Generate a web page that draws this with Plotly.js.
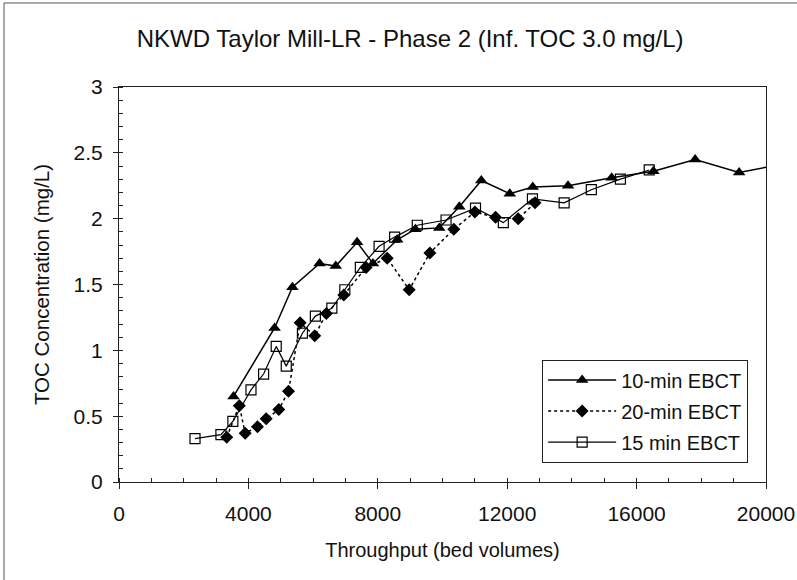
<!DOCTYPE html>
<html>
<head>
<meta charset="utf-8">
<script src="https://cdn.plot.ly/plotly-3.0.1.min.js"></script>
<style>html,body{margin:0;padding:0;background:#fff;}#chart{width:797px;height:580px;}</style>
</head>
<body>
<div id="chart"></div>
<script>
// Throughput (bed volumes) and TOC concentration (mg/L)
const ebct10_x = [3540, 4810, 5360, 6200, 6700, 7360, 7850, 8600, 9160, 9900, 10520, 11200, 12080, 12790, 13880, 15230, 16520, 17810, 19170, 20200];
const ebct10_y = [0.65, 1.17, 1.48, 1.66, 1.64, 1.82, 1.66, 1.84, 1.92, 1.93, 2.09, 2.29, 2.19, 2.24, 2.25, 2.31, 2.36, 2.45, 2.35, 2.40];

const ebct20_x = [3330, 3720, 3900, 4280, 4550, 4940, 5240, 5600, 6050, 6410, 6950, 7640, 8290, 8970, 9610, 10350, 11000, 11640, 12340, 12860];
const ebct20_y = [0.34, 0.58, 0.37, 0.42, 0.48, 0.55, 0.69, 1.21, 1.11, 1.28, 1.42, 1.63, 1.70, 1.46, 1.74, 1.92, 2.05, 2.01, 2.00, 2.12];

const ebct15_x = [2350, 3150, 3520, 4080, 4470, 4860, 5170, 5670, 6070, 6580, 6980, 7460, 8040, 8520, 9220, 10110, 11020, 11880, 12780, 13760, 14600, 15500, 16390];
const ebct15_y = [0.33, 0.36, 0.46, 0.70, 0.82, 1.03, 0.88, 1.13, 1.26, 1.32, 1.46, 1.63, 1.79, 1.86, 1.95, 1.99, 2.08, 1.97, 2.15, 2.12, 2.22, 2.30, 2.37];

const seriesNames = ['10-min EBCT', '20-min EBCT', '15 min EBCT'];
const xTickVals = [0, 4000, 8000, 12000, 16000, 20000];
const yTickVals = [0, 0.5, 1, 1.5, 2, 2.5, 3];

const FONT = 'Arial, "Liberation Sans", Helvetica, sans-serif';

const traces = [
  {
    x: ebct10_x, y: ebct10_y, name: seriesNames[0], type: 'scatter', mode: 'lines+markers',
    line: {color: '#000', width: 1.5},
    marker: {symbol: 'triangle-up', size: 11, color: '#000'},
    legendgroup: 'a'
  },
  {
    x: ebct20_x, y: ebct20_y, name: seriesNames[1], type: 'scatter', mode: 'lines+markers',
    line: {color: '#000', width: 1.5, dash: 'dot'},
    marker: {symbol: 'diamond', size: 10, color: '#000'},
    legendgroup: 'b'
  },
  {
    x: ebct15_x, y: ebct15_y, name: seriesNames[2], type: 'scatter', mode: 'lines+markers',
    line: {color: '#000', width: 1.2},
    marker: {symbol: 'square-open', size: 10, color: '#000', line: {width: 1.2}},
    legendgroup: 'c'
  }
];

const layout = {
  width: 797, height: 580,
  margin: {l: 119, r: 31, t: 87, b: 98},
  paper_bgcolor: '#fff', plot_bgcolor: '#fff',
  font: {family: FONT, size: 21, color: '#111'},
  showlegend: true,
  title: {
    text: 'NKWD Taylor Mill-LR - Phase 2 (Inf. TOC 3.0 mg/L)',
    font: {family: FONT, size: 24, color: '#111'},
    x: 0.45, xref: 'paper', xanchor: 'center',
    y: 0.933, yref: 'container', yanchor: 'middle'
  },
  xaxis: {
    range: [0, 20000], tickvals: xTickVals, tickformat: 'd',
    showgrid: false, zeroline: false,
    showline: true, linecolor: '#222', linewidth: 1, mirror: true,
    ticks: 'outside', ticklen: 6, tickcolor: '#222',
    ticklabelstandoff: 7,
    minor: {dtick: 1000, ticks: 'inside', ticklen: 4, tickcolor: '#222', showgrid: false},
    tickfont: {size: 21},
    title: {text: 'Throughput (bed volumes)', font: {size: 20}, standoff: 18}
  },
  yaxis: {
    range: [0, 3], tickvals: yTickVals,
    showgrid: false, zeroline: false,
    showline: true, linecolor: '#222', linewidth: 1, mirror: true,
    ticks: 'outside', ticklen: 5, tickcolor: '#222',
    ticklabelstandoff: 6,
    minor: {dtick: 0.1, ticks: 'inside', ticklen: 4, tickcolor: '#222', showgrid: false},
    tickfont: {size: 21},
    title: {text: 'TOC Concentration (mg/L)', font: {size: 20.5}, standoff: 18}
  },
  legend: {
    x: 0.654, y: 0.31, xanchor: 'left', yanchor: 'top',
    bgcolor: '#fff', bordercolor: '#222', borderwidth: 1,
    font: {size: 20, color: '#111'},
    traceorder: 'grouped', tracegroupgap: 2,
    itemwidth: 68
  },
  shapes: [
    {type: 'line', xref: 'paper', yref: 'paper', x0: -0.1777, x1: -0.1777, y0: 1.2127, y1: -0.3, line: {color: '#555', width: 1}},
    {type: 'line', xref: 'paper', yref: 'paper', x0: -0.1777, x1: 1.06, y0: 1.2127, y1: 1.2127, line: {color: '#555', width: 1}}
  ]
};

Plotly.newPlot('chart', traces, layout, {displayModeBar: false, staticPlot: true});
</script>
</body>
</html>
